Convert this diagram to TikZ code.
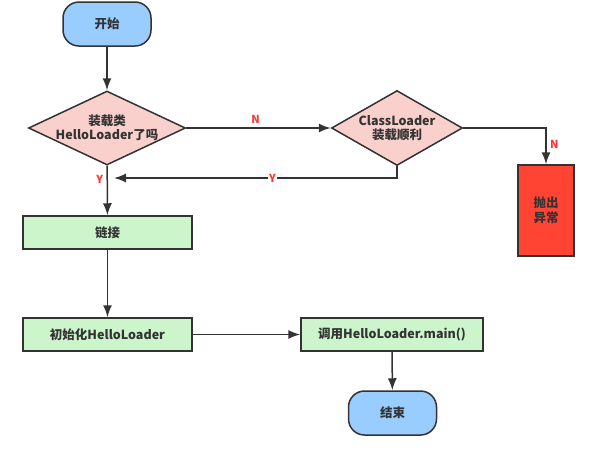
\documentclass[tikz,border=0pt]{standalone}
\usepackage{fontspec}
\setmainfont{Noto Sans CJK SC}
\usetikzlibrary{shapes.geometric,arrows.meta}
\definecolor{termblue}{HTML}{99CCFF}
\definecolor{askpink}{HTML}{FAD0CC}
\definecolor{stepgreen}{HTML}{CCF5CC}
\definecolor{errred}{HTML}{FF4433}
\definecolor{linegray}{HTML}{333333}
\definecolor{yesno}{HTML}{FF3333}
\tikzset{
  every node/.style={font=\fontsize{12.5}{14.5}\selectfont\bfseries,text=linegray},
  term/.style={draw=linegray,line width=1.5pt,fill=termblue,rounded corners=16pt,minimum width=88pt,minimum height=44pt},
  ask/.style={draw=linegray,line width=1.5pt,fill=askpink,diamond,inner sep=0pt},
  stepbox/.style={draw=linegray,line width=1.5pt,fill=stepgreen,minimum height=33pt},
  yn/.style={text=yesno,font=\fontsize{11}{13}\selectfont\bfseries}
}
\begin{document}
\begin{tikzpicture}[x=1pt,y=-1pt,>={Latex[length=12pt,width=9pt]},line width=1.5pt,draw=linegray]
\useasboundingbox (0,0) rectangle (594,451);
\node[term] (start) at (107,24) {开始};
\node[ask,minimum width=157pt,minimum height=74pt,label={[align=center]center:装载类\\HelloLoader了吗}] (load) at (107,128) {};
\node[ask,minimum width=131pt,minimum height=75pt,label={[align=center]center:ClassLoader\\装载顺利}] (cl) at (397,128) {};
\node[draw=linegray,line width=1.5pt,fill=errred,minimum width=56pt,minimum height=91pt,align=center] (err) at (546,210.5) {抛出\\异常};
\node[stepbox,minimum width=169pt] (link) at (107.5,232.5) {链接};
\node[stepbox,minimum width=169pt] (init) at (107.5,334.5) {初始化HelloLoader};
\node[stepbox,minimum width=182pt] (call) at (392,334.5) {调用HelloLoader.main()};
\node[term] (stop) at (392.5,413) {结束};
\coordinate (merge) at (114,178);
\draw[->,linegray] (start) -- (load);
\draw[->,linegray] (load) -- node[yn,above,pos=0.48] {N} (cl);
\draw[->,linegray] (cl.south) |- node[yn,fill=white,inner sep=1pt,pos=0.72] {Y} (merge);
\draw[->,linegray] (cl.east) -| node[yn,right,pos=0.72] {N} (err.north);
\draw[->,linegray] (load) -- node[yn,left,pos=0.27] {Y} (link);
\draw[->,linegray] (link) -- (init);
\draw[->,linegray] (init) -- (call);
\draw[->,linegray] (call) -- (stop);
\end{tikzpicture}
\end{document}
